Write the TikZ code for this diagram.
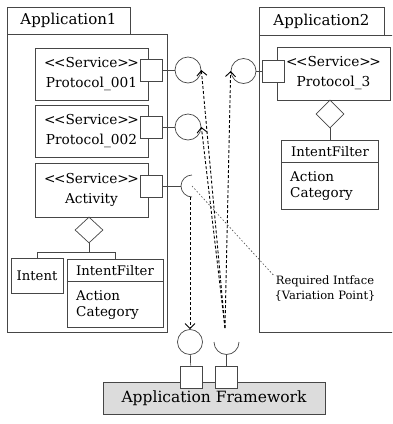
\documentclass[tikz,border=0pt]{standalone}
\usepackage{fontspec}
\setmainfont{DejaVu Serif}
\definecolor{LineGray}{RGB}{70,70,70}
\definecolor{FrameFill}{RGB}{220,220,220}
\usetikzlibrary{shapes.geometric, arrows.meta, positioning}
\newcommand{\svc}{<\kern-1.5pt<Service>\kern-1.5pt>}

\begin{document}
\begin{tikzpicture}[x=1pt, y=-1pt]
  % Component diagram styles
  \tikzset{
    pkgtab/.style={draw=LineGray, line width=0.7pt, minimum height=27, inner sep=0,
                   font=\fontsize{15}{18}\selectfont},
    pkgbody/.style={draw=LineGray, line width=0.7pt, inner sep=0},
    svcbox/.style={draw=LineGray, line width=0.7pt, minimum width=113, minimum height=52,
                   align=center, font=\fontsize{13.7}{20}\selectfont},
    port/.style={draw=LineGray, fill=white, line width=0.7pt, minimum size=22, inner sep=0},
    iface/.style={circle, draw=LineGray, line width=0.7pt, minimum size=25, inner sep=0},
    classbox/.style={draw=LineGray, line width=0.7pt, inner sep=0, font=\fontsize{13.2}{15}\selectfont},
    classname/.style={inner sep=0, font=\fontsize{13.2}{15}\selectfont},
    attr/.style={inner sep=0, align=left, anchor=west, font=\fontsize{13.5}{15.5}\selectfont},
    diam/.style={diamond, draw=LineGray, line width=0.7pt, minimum width=28, minimum height=26, inner sep=0},
    wire/.style={LineGray, line width=0.7pt},
    link/.style={densely dashed, line width=0.9pt, -{Straight Barb[length=5pt, width=10pt]}}
  }

  \useasboundingbox (0,0) rectangle (392,424);
  \clip (0,0) rectangle (392,424);

  % Application1 package
  \node[pkgtab, minimum width=123] (tab1) at (68.5,20.5) {Application1};
  \node[pkgbody, minimum width=160, minimum height=298] (app1) at (87,183) {};

  % Application2 package (runs past the right edge)
  \node[pkgtab, minimum width=125, minimum height=28] (tab2) at (321.5,21) {Application2};
  \node[pkgbody, minimum width=150, minimum height=297] (app2) at (334,183.5) {};

  % Services
  \node[svcbox] (proto1) at (91.5,74) {\svc\\Protocol\_001};
  \node[svcbox] (proto2) at (91.5,131) {\svc\\Protocol\_002};
  \node[svcbox, minimum height=54] (activity) at (91.5,190) {\svc\\Activity};
  \node[svcbox, minimum height=53] (proto3) at (333.5,73.5) {\svc\\Protocol\_3};

  % Ports
  \node[port] (port1) at (151,70) {};
  \node[port] (port2) at (151,127) {};
  \node[port] (port3) at (151,186) {};
  \node[port] (port4) at (273,71) {};

  % Provided interfaces
  \node[iface, minimum size=26] (prov1) at (188,70) {};
  \node[iface, minimum size=26] (prov2) at (188,127) {};
  \node[iface] (prov3) at (243.5,71) {};
  \draw[wire] (port1) -- (prov1);
  \draw[wire] (port2) -- (prov2);
  \draw[wire] (port4) -- (prov3);

  % Required interface of Activity
  \coordinate (sock1) at (192,186);
  \draw[wire] (sock1) ++(0,-11) arc[start angle=270, end angle=90, radius=11];
  \draw[wire] (port3) -- ([xshift=-11]sock1);
  \coordinate (sock1end) at (190,197);

  % Intent and IntentFilter under Activity
  \node[diam] (agg1) at (89,230) {};
  \node[classbox, minimum width=52, minimum height=35] (intent) at (37,275.5) {Intent};
  \node[classbox, minimum width=96, minimum height=68] (filter1) at (115,293) {};
  \draw[wire] (filter1.north west) ++(0,23) -- ++(96,0);
  \node[classname] (f1name) at (115,270.5) {IntentFilter};
  \node[attr] (f1attr) at (76,305) {Action\\Category};
  \draw[wire] (agg1.south) -- ++(0,9) coordinate (fork1);
  \draw[wire] (intent.north) |- (fork1) -| (filter1.north);

  % IntentFilter under Protocol_3
  \node[diam, minimum height=28] (agg2) at (330,114) {};
  \node[classbox, minimum width=97, minimum height=69] (filter2) at (330,174.5) {};
  \draw[wire] (filter2.north west) ++(0,23) -- ++(97,0);
  \node[classname] (f2name) at (330,151.5) {IntentFilter};
  \node[attr] (f2attr) at (290,186) {Action\\Category};
  \draw[wire] (agg2.south) -- (filter2.north);

  % Application Framework
  \node[draw=LineGray, fill=FrameFill, line width=0.7pt, minimum width=222, minimum height=32,
        font=\fontsize{15.5}{18}\selectfont] (fw) at (214,398) {Application Framework};
  \node[port] (fport1) at (191,377) {};
  \node[port] (fport2) at (226.5,377) {};
  \node[iface] (fprov) at (190,342) {};
  \draw[wire] (fprov) -- (fport1);
  \coordinate (fsock) at (226.5,354.5);
  \draw[wire] (fsock) ++(-12.5,-12.5) arc[start angle=180, end angle=0, radius=12.5];
  \draw[wire] (fsock) -- (fport2);
  \coordinate (fsocktop) at (225,328);

  % Dependencies
  \draw[link] (sock1end) -- (fprov);
  \draw[link] (fsocktop) -- (prov1.east);
  \draw[link] (fsocktop) -- (prov2.east);
  \draw[link] (fsocktop) -- (prov3.west);

  % Variation point note
  \node[inner sep=1pt, align=center, font=\fontsize{11.5}{15}\selectfont] (vp) at (325,289)
    {Required Intface\\\{Variation Point\}};
  \draw[LineGray, line width=0.6pt, dash pattern=on 1.5pt off 2pt] (sock1) -- (vp.north west);
\end{tikzpicture}
\end{document}
